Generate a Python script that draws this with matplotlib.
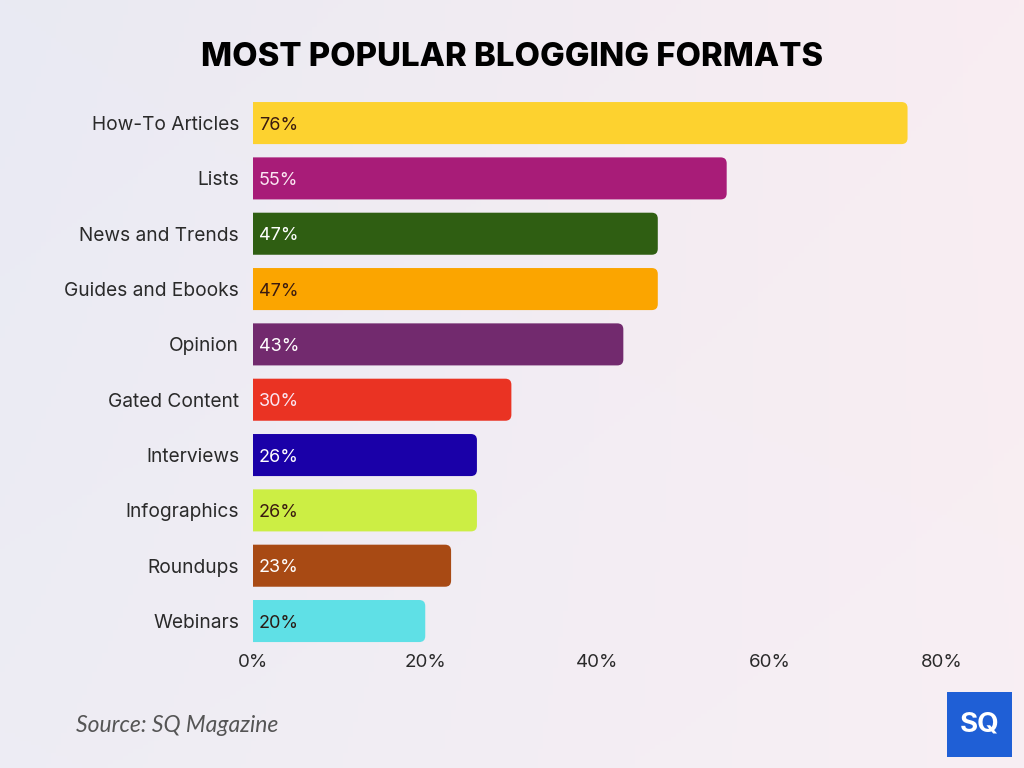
import numpy as np
import matplotlib
matplotlib.use("Agg")
from matplotlib import pyplot as plt
from matplotlib.patches import FancyBboxPatch, Rectangle

# Données
formats = ["How-To Articles", "Lists", "News and Trends", "Guides and Ebooks", "Opinion",
           "Gated Content", "Interviews", "Infographics", "Roundups", "Webinars"]
valeurs = [76, 55, 47, 47, 43, 30, 26, 26, 23, 20]
couleurs = ["#FDD22F", "#A81C78", "#2F5E12", "#FBA500", "#722A6E",
            "#EA3323", "#1A00A8", "#CCEE44", "#A84A14", "#5FE0E6"]
couleurs_texte = ["#3A1A10", "#FBE6F2", "#FFFFFF", "#3A1A10", "#FFFFFF",
                  "#FBE6F2", "#FFFFFF", "#3A1A10", "#FFFFFF", "#2A1A14"]
ticks = [0, 20, 40, 60, 80]

plt.rcParams['font.family'] = ['Inter', 'DejaVu Sans']

fig = plt.figure(figsize=(10.24, 7.68), dpi=100)

# fond dégradé
bg = fig.add_axes([0, 0, 1, 1], zorder=-10)
xx, yy = np.meshgrid(np.linspace(0, 1, 200), np.linspace(0, 1, 200))
c_gauche = np.array([233, 234, 243]) / 255
c_droite = np.array([249, 237, 242]) / 255
c_bas = np.array([246, 242, 246]) / 255
t = xx[..., None]
img = c_gauche * (1 - t) + c_droite * t
img = img * (1 - 0.35 * yy[..., None]) + c_bas * 0.35 * yy[..., None]
bg.imshow(img, aspect='auto', extent=[0, 1, 0, 1], origin='upper')
bg.axis('off')

ax = fig.add_axes([253 / 1024, 1 - 648.7 / 768, (942 - 253) / 1024, (648.7 - 95.4) / 768])
ax.set_facecolor('none')
ax.set_xlim(0, 80)
ax.set_ylim(len(formats) - 0.5, -0.5)

h = 0.76
# rapport data/pixels pour arrondir correctement
px_x = (942 - 253) / 80.0
px_y = (648.7 - 95.4) / len(formats)
r = 6 / px_x
for i, v in enumerate(valeurs):
    # la barre part un peu avant 0 : les coins gauches arrondis sont coupés par l'axe
    p = FancyBboxPatch((-3 * r, i - h / 2), v + 3 * r, h,
                       boxstyle="round,pad=0,rounding_size=%f" % r,
                       mutation_aspect=px_x / px_y,
                       facecolor=couleurs[i], edgecolor='none', zorder=2, clip_on=True)
    ax.add_patch(p)
    ax.text(0.7, i + 0.04, "%d%%" % v, va='center', ha='left', fontsize=13,
            color=couleurs_texte[i], zorder=3)

ax.set_yticks(range(len(formats)))
ax.set_yticklabels(formats, fontsize=13.8, color='#2a2a2a')
ax.set_xticks(ticks)
ax.set_xticklabels(["%d%%" % x for x in ticks], fontsize=13.5, color='#2a2a2a')
ax.tick_params(length=0, axis='y', pad=10)
ax.tick_params(length=0, axis='x', pad=4)
for s in ax.spines.values():
    s.set_visible(False)

fig.text(0.5, 1 - 57 / 768, "MOST POPULAR BLOGGING FORMATS", ha='center', va='center',
         fontsize=23.7, fontweight='heavy', family=['Inter', 'DejaVu Sans'], color='#000000')

fig.text(76 / 1024, 1 - 725 / 768, "Source: SQ Magazine", ha='left', va='center',
         fontsize=16.5, style='italic', family=['Lato', 'DejaVu Sans'], color='#555555')

# logo
logo = fig.add_axes([947 / 1024, 1 - 757 / 768, 65 / 1024, 65 / 768])
logo.add_patch(Rectangle((0, 0), 1, 1, color='#1F5FD6'))
logo.text(0.5, 0.5, "SQ", ha='center', va='center', fontsize=20, fontweight='bold',
          color='white', family=['Inter', 'DejaVu Sans'])
logo.set_xlim(0, 1)
logo.set_ylim(0, 1)
logo.axis('off')

fig.savefig("out.png", dpi=100)
